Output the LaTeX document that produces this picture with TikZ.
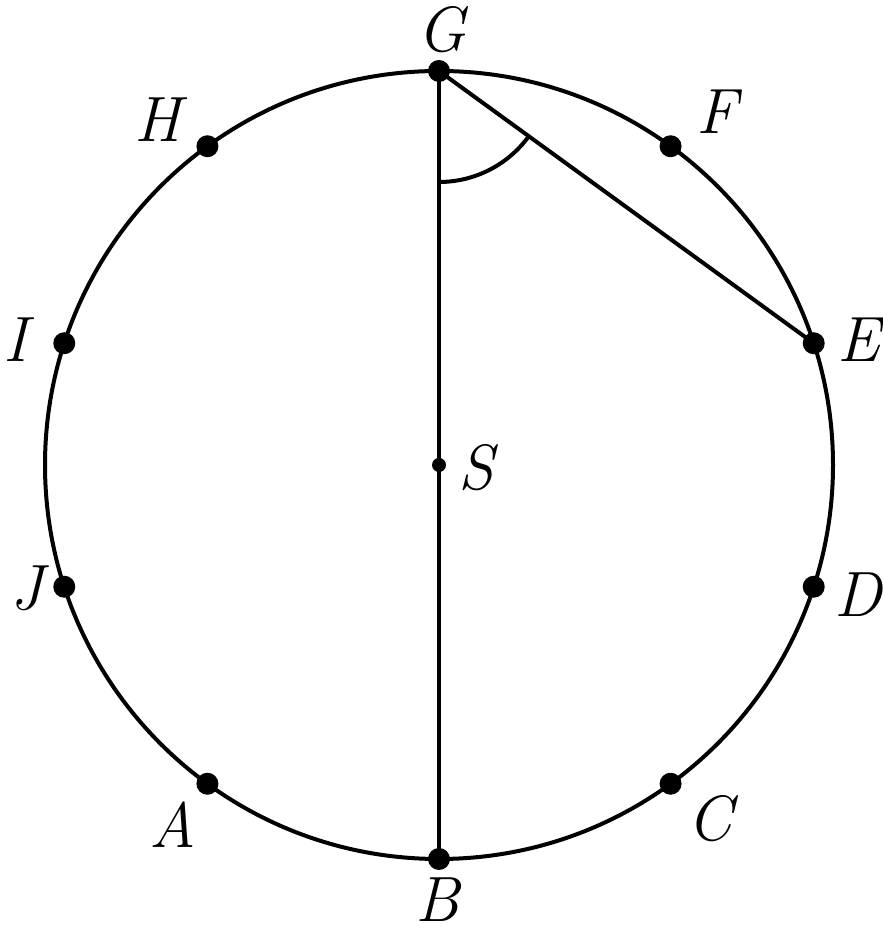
\documentclass[tikz,border=0pt]{standalone}
\usetikzlibrary{calc}
\begin{document}
\begin{tikzpicture}[x=1pt,y=1pt,
  line width=4pt,
  pt/.style={circle,fill=black,inner sep=0pt,minimum size=22pt},
  smallpt/.style={circle,fill=black,inner sep=0pt,minimum size=14pt},
  lbl/.style={inner sep=0pt,font=\fontsize{64}{64}\selectfont\itshape}]
\useasboundingbox (0,0) rectangle (883,937);
\coordinate (S) at (439,472);
\draw (S) circle (394);
\foreach \n/\a in {G/90,F/54,E/18,D/-18,C/-54,B/-90,A/-126,J/-162,I/162,H/126}{
  \coordinate (\n) at ($(S)+(\a:394)$);
}
\draw (G) -- (B);
\draw (G) -- (E);
\draw (G) ++(-90:111) arc[start angle=-90,end angle=-35.9,radius=111];
\foreach \n in {G,F,E,D,C,B,A,J,I,H}{ \node[pt] (p\n) at (\n) {}; }
\node[smallpt] (pS) at (S) {};
\node[lbl] (lG) at (442,907) {G};
\node[lbl] (lH) at (158,817) {H};
\node[lbl] (lF) at (717,825) {F};
\node[lbl] (lI) at (16,597) {I};
\node[lbl] (lE) at (859,597) {E};
\node[lbl] (lS) at (476,469) {S};
\node[lbl] (lJ) at (27,349) {J};
\node[lbl] (lD) at (858,342) {D};
\node[lbl] (lA) at (173,112) {A};
\node[lbl] (lC) at (710,118) {C};
\node[lbl] (lB) at (438,37) {B};
\end{tikzpicture}
\end{document}
